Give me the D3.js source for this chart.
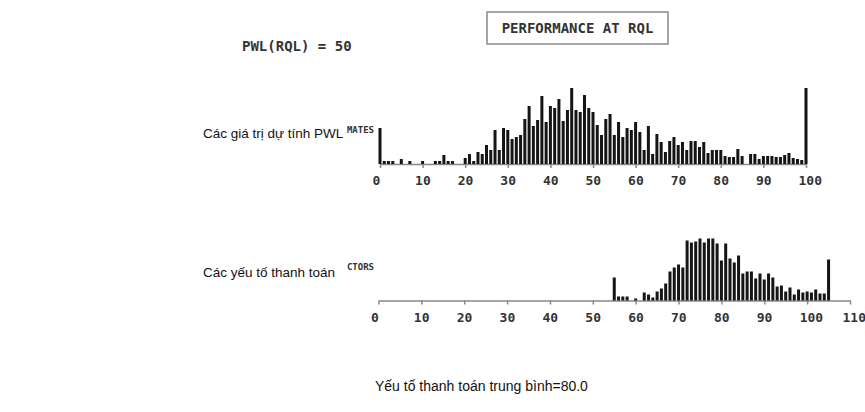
<!DOCTYPE html>
<html>
<head>
<meta charset="utf-8">
<script src="https://cdn.jsdelivr.net/npm/d3@7"></script>
<style>
  body { margin: 0; background: #fff; }
  svg { display: block; }
  .mono { font-family: "DejaVu Sans Mono", monospace; font-weight: bold; fill: #333; }
  .viet { font-family: "Liberation Sans", Arial, sans-serif; fill: #111; }
</style>
</head>
<body>
<div id="chart"></div>
<script>
// PWL estimate histogram, bins 0..100
const estimateStart = 0;
const estimateCounts = [
  36, 3, 3, 3, 0, 5, 0, 3, 0, 0,
  3, 0, 0, 3, 3, 9, 3, 3, 0, 0,
  6, 10, 3, 12, 10, 19, 14, 34, 14, 36,
  34, 25, 27, 29, 45, 58, 38, 44, 68, 42,
  58, 56, 65, 43, 54, 76, 54, 52, 69, 56,
  52, 39, 29, 45, 50, 29, 42, 27, 36, 34,
  42, 32, 14, 38, 10, 30, 22, 12, 23, 27,
  19, 22, 14, 23, 23, 17, 22, 11, 14, 14,
  14, 8, 7, 7, 15, 8, 0, 10, 10, 5,
  8, 8, 8, 7, 7, 9, 11, 6, 5, 4,
  76
];

// pay factor histogram, bins 55..105
const payStart = 55;
const payCounts = [
  23, 4, 4, 4, 0, 2, 0, 8, 6, 3,
  9, 12, 17, 29, 33, 36, 33, 60, 58, 59,
  62, 58, 62, 62, 57, 40, 57, 42, 38, 45,
  27, 29, 29, 22, 27, 21, 27, 23, 14, 15,
  9, 13, 6, 11, 8, 9, 8, 11, 7, 7,
  41
];

const estimateTicks = [0, 10, 20, 30, 40, 50, 60, 70, 80, 90, 100];
const payTicks = [0, 10, 20, 30, 40, 50, 60, 70, 80, 90, 100, 110];

const width = 865;
const height = 412;

const svg = d3
  .select("#chart")
  .append("svg")
  .attr("width", width)
  .attr("height", height);

// header
svg.append("rect")
  .attr("x", 487)
  .attr("y", 12)
  .attr("width", 181)
  .attr("height", 32)
  .attr("fill", "none")
  .attr("stroke", "#888")
  .attr("stroke-width", 1.5);

svg.append("text")
  .attr("class", "mono")
  .attr("x", 577.5)
  .attr("y", 33)
  .attr("text-anchor", "middle")
  .style("font-size", "14px")
  .text("PERFORMANCE AT RQL");

svg.append("text")
  .attr("class", "mono")
  .attr("x", 242)
  .attr("y", 51)
  .style("font-size", "14px")
  .text("PWL(RQL) = 50");

const drawHist = (start, counts, ticks, x, y) => {
  const data = counts.map((c, i) => ({ bin: start + i, count: c }));

  const axis = d3
    .axisBottom(x)
    .tickValues(ticks)
    .tickSize(4)
    .tickSizeOuter(0);

  const g = svg
    .append("g")
    .attr("transform", `translate(0,${y.range()[0]})`)
    .call(axis);

  g.select(".domain").attr("stroke", "#888").attr("stroke-width", 1.5);
  g.selectAll(".tick line").attr("stroke", "#888").attr("stroke-width", 1.5);
  g.selectAll(".tick text")
    .attr("class", "mono")
    .attr("text-anchor", "start")
    .attr("x", -8)
    .attr("y", 12)
    .attr("dy", "0.71em")
    .style("font-size", "13px")
    .attr("fill", "#333");

  svg.append("g")
    .selectAll("rect")
    .data(data.filter((d) => d.count > 0))
    .join("rect")
    .attr("x", (d) => x(d.bin) - 1.5)
    .attr("width", 3)
    .attr("y", (d) => y(d.count))
    .attr("height", (d) => y(0) - y(d.count))
    .attr("fill", "#151515");
};

const xEst = d3.scaleLinear().domain([0, 100]).range([380, 806]);
const yEst = d3.scaleLinear().domain([0, 80]).range([164, 84]);
drawHist(estimateStart, estimateCounts, estimateTicks, xEst, yEst);

const xPay = d3.scaleLinear().domain([0, 110]).range([378.5, 850]);
const yPay = d3.scaleLinear().domain([0, 80]).range([300.5, 220.5]);
drawHist(payStart, payCounts, payTicks, xPay, yPay);

// clipped original axis captions
svg.append("text")
  .attr("class", "mono")
  .attr("x", 374)
  .attr("y", 133)
  .attr("text-anchor", "end")
  .style("font-size", "9px")
  .text("MATES");

svg.append("text")
  .attr("class", "mono")
  .attr("x", 374)
  .attr("y", 270)
  .attr("text-anchor", "end")
  .style("font-size", "9px")
  .text("CTORS");

// Vietnamese overlay labels
svg.append("text")
  .attr("class", "viet")
  .attr("x", 203)
  .attr("y", 138)
  .style("font-size", "13.5px")
  .text("Các giá trị dự tính PWL");

svg.append("text")
  .attr("class", "viet")
  .attr("x", 203)
  .attr("y", 277)
  .style("font-size", "13.5px")
  .text("Các yếu tố thanh toán");

svg.append("text")
  .attr("class", "viet")
  .attr("x", 375)
  .attr("y", 391)
  .style("font-size", "14px")
  .text("Yếu tố thanh toán trung bình=80.0");
</script>
</body>
</html>
